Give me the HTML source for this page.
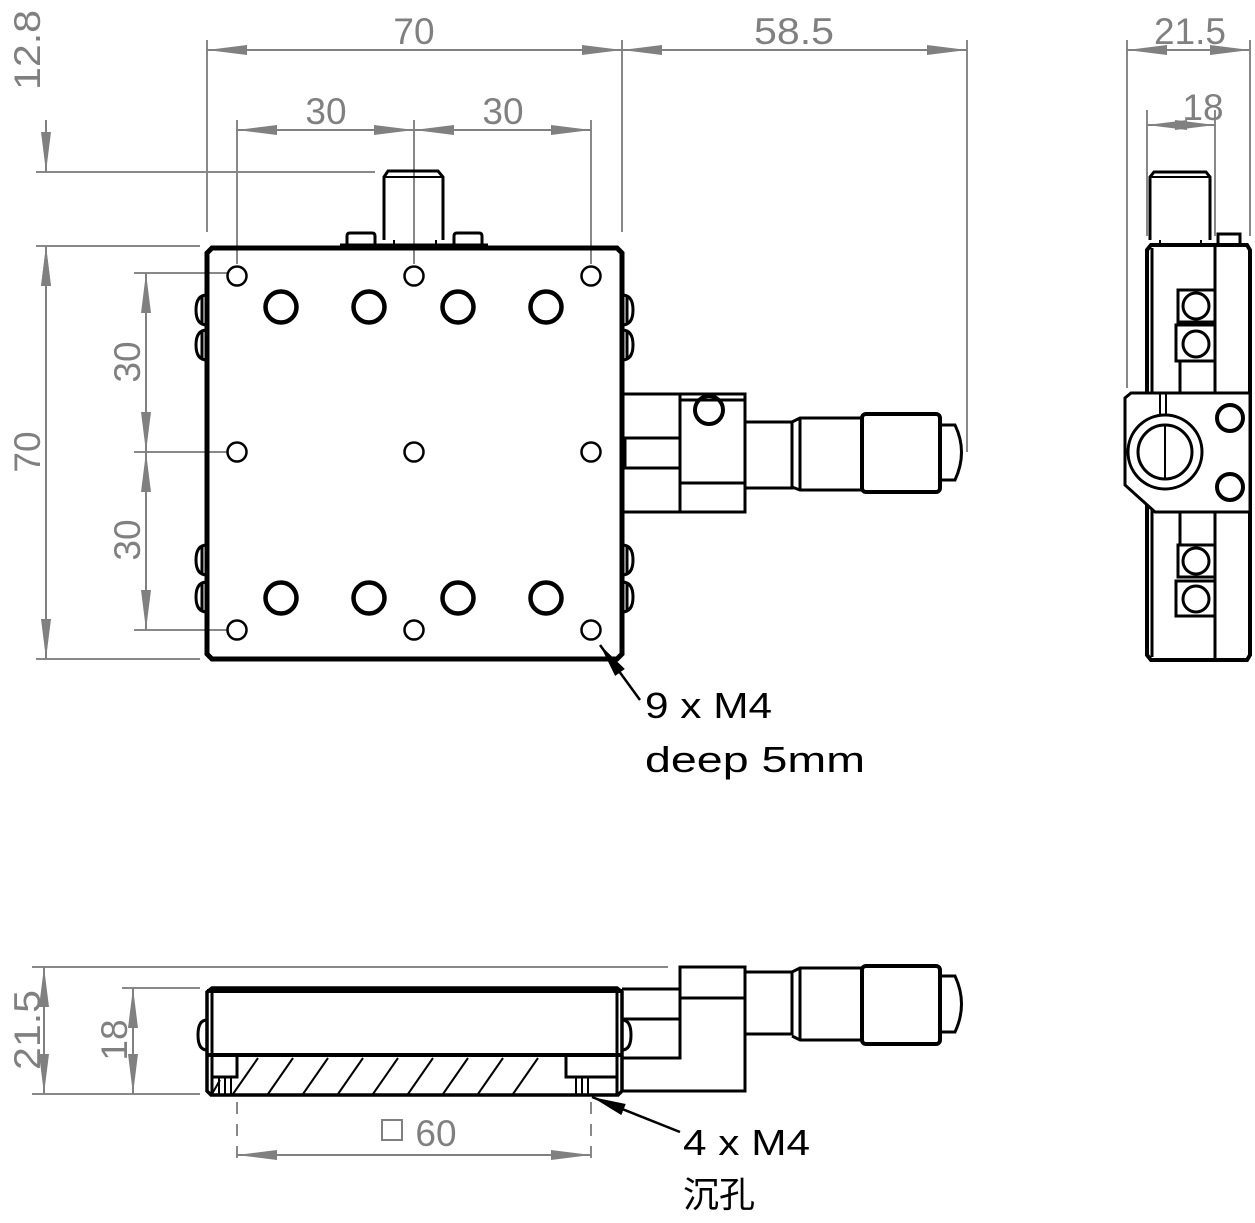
<!DOCTYPE html>
<html><head><meta charset="utf-8"><style>
html,body{margin:0;padding:0;background:#fff;}
svg{display:block;}
text{font-family:"Liberation Sans","Noto Sans CJK SC",sans-serif;}
</style></head><body>
<svg width="1255" height="1223" viewBox="0 0 1255 1223" xmlns="http://www.w3.org/2000/svg">
<defs>
<marker id="a" markerUnits="userSpaceOnUse" markerWidth="40" markerHeight="12" refX="40" refY="6" orient="auto-start-reverse" viewBox="0 0 40 12"><path d="M0,1 L40,6 L0,11 z" fill="#808080"/></marker>
<marker id="k" markerUnits="userSpaceOnUse" markerWidth="34" markerHeight="14" refX="34" refY="7" orient="auto" viewBox="0 0 34 14"><path d="M0,1 L34,7 L0,13 z" fill="#000"/></marker>
</defs>

<g stroke="#888" stroke-width="2" fill="none">
 <line x1="207" y1="40" x2="207" y2="232"/>
 <line x1="622" y1="40" x2="622" y2="232"/>
 <line x1="967" y1="40" x2="967" y2="452"/>
 <line x1="237" y1="120" x2="237" y2="264"/>
 <line x1="414" y1="120" x2="414" y2="264"/>
 <line x1="591" y1="120" x2="591" y2="264"/>
 <line x1="36" y1="172" x2="375" y2="172"/>
 <line x1="36" y1="246" x2="200" y2="246"/>
 <line x1="36" y1="659" x2="200" y2="659"/>
 <line x1="134" y1="273" x2="228" y2="273"/>
 <line x1="134" y1="452" x2="228" y2="452"/>
 <line x1="134" y1="630" x2="228" y2="630"/>
 <line x1="1127" y1="40" x2="1127" y2="388"/>
 <line x1="1147" y1="110" x2="1147" y2="236"/>
 <line x1="1250" y1="40" x2="1250" y2="236"/>
 <line x1="1215" y1="110" x2="1215" y2="236"/>
 <line x1="32" y1="967" x2="668" y2="967"/>
 <line x1="122" y1="988" x2="200" y2="988"/>
 <line x1="32" y1="1094" x2="200" y2="1094"/>
 <line x1="237" y1="1102" x2="237" y2="1165" stroke-dasharray="12,10"/>
 <line x1="591" y1="1102" x2="591" y2="1165" stroke-dasharray="12,10"/>
</g>
<g stroke="#808080" stroke-width="2" marker-start="url(#a)" marker-end="url(#a)">
 <line x1="207" y1="50" x2="622" y2="50"/>
 <line x1="622" y1="50" x2="967" y2="50"/>
 <line x1="237" y1="130" x2="414" y2="130"/>
 <line x1="414" y1="130" x2="591" y2="130"/>
 <line x1="46" y1="246" x2="46" y2="659"/>
 <line x1="146" y1="273" x2="146" y2="452"/>
 <line x1="146" y1="452" x2="146" y2="630"/>
 <line x1="1127" y1="50" x2="1250" y2="50"/>
 <line x1="44" y1="967" x2="44" y2="1094"/>
 <line x1="133" y1="988" x2="133" y2="1094"/>
 <line x1="237" y1="1155" x2="591" y2="1155"/>
</g>
<g stroke="#808080" stroke-width="2">
 <line x1="46" y1="120" x2="46" y2="172" marker-end="url(#a)"/>
 <line x1="46" y1="300" x2="46" y2="246" marker-end="url(#a)"/>
 <line x1="1147" y1="125" x2="1215" y2="125" marker-start="url(#a)" marker-end="url(#a)"/>
</g>
<g fill="#808080" font-size="37">
 <text x="414" y="44" text-anchor="middle">70</text>
 <text x="794" y="44" text-anchor="middle" textLength="80" lengthAdjust="spacingAndGlyphs">58.5</text>
 <text x="326" y="124" text-anchor="middle">30</text>
 <text x="503" y="124" text-anchor="middle">30</text>
 <text x="1190" y="44" text-anchor="middle">21.5</text>
 <text x="1203" y="120" text-anchor="middle">18</text>
 <text transform="translate(40,50) rotate(-90)" text-anchor="middle" textLength="80" lengthAdjust="spacingAndGlyphs">12.8</text>
 <text transform="translate(40,452) rotate(-90)" text-anchor="middle">70</text>
 <text transform="translate(140,362) rotate(-90)" text-anchor="middle">30</text>
 <text transform="translate(140,540) rotate(-90)" text-anchor="middle">30</text>
 <text transform="translate(40,1030) rotate(-90)" text-anchor="middle" textLength="80" lengthAdjust="spacingAndGlyphs">21.5</text>
 <text transform="translate(127,1040) rotate(-90)" text-anchor="middle">18</text>
 <text x="436" y="1146" text-anchor="middle">60</text>
</g>
<rect x="382" y="1120" width="20" height="20" fill="none" stroke="#808080" stroke-width="2"/>

<!-- top view -->
<g stroke="#000" fill="none">
 <path d="M384,240 V177 L388,171 H438 L443,177 V240" stroke-width="3"/>
 <line x1="384" y1="177" x2="443" y2="177" stroke-width="2"/>
 <line x1="394" y1="240" x2="394" y2="246" stroke-width="2"/>
 <line x1="436" y1="240" x2="436" y2="246" stroke-width="2"/>
 <path d="M347,245 V236 Q347,233 350,233 H372 Q375,233 375,236 V245" stroke-width="3"/>
 <path d="M454,245 V236 Q454,233 457,233 H479 Q482,233 482,236 V245" stroke-width="3"/>
 <line x1="340" y1="245" x2="488" y2="245" stroke-width="3"/>
 <path d="M212,248 H617 L622,253 V654 L617,659 H212 L207,654 V253 Z" stroke-width="5"/>
 <g stroke-width="3">
  <path d="M207,295 Q196,295 196,310 Q196,325 207,325"/><line x1="202" y1="296" x2="202" y2="324"/>
  <path d="M207,330 Q196,330 196,345 Q196,360 207,360"/><line x1="202" y1="331" x2="202" y2="359"/>
  <path d="M207,545 Q196,545 196,560 Q196,575 207,575"/><line x1="202" y1="546" x2="202" y2="574"/>
  <path d="M207,582 Q196,582 196,597 Q196,612 207,612"/><line x1="202" y1="583" x2="202" y2="611"/>
  <path d="M622,295 Q633,295 633,310 Q633,325 622,325"/><line x1="627" y1="296" x2="627" y2="324"/>
  <path d="M622,330 Q633,330 633,345 Q633,360 622,360"/><line x1="627" y1="331" x2="627" y2="359"/>
  <path d="M622,545 Q633,545 633,560 Q633,575 622,575"/><line x1="627" y1="546" x2="627" y2="574"/>
  <path d="M622,582 Q633,582 633,597 Q633,612 622,612"/><line x1="627" y1="583" x2="627" y2="611"/>
 </g>
 <g stroke-width="2.5">
  <circle cx="237" cy="276" r="9.5"/><circle cx="414" cy="276" r="9.5"/><circle cx="591" cy="276" r="9.5"/>
  <circle cx="237" cy="452" r="9.5"/><circle cx="414" cy="452" r="9.5"/><circle cx="591" cy="452" r="9.5"/>
  <circle cx="237" cy="630" r="9.5"/><circle cx="414" cy="630" r="9.5"/><circle cx="591" cy="630" r="9.5"/>
 </g>
 <g stroke-width="4.5">
  <circle cx="281" cy="307" r="15.5"/><circle cx="369" cy="307" r="15.5"/><circle cx="458" cy="307" r="15.5"/><circle cx="546" cy="307" r="15.5"/>
  <circle cx="281" cy="598" r="15.5"/><circle cx="369" cy="598" r="15.5"/><circle cx="458" cy="598" r="15.5"/><circle cx="546" cy="598" r="15.5"/>
 </g>
 <g stroke-width="3">
  <polyline points="622,394 745,394 745,512 622,512"/>
  <line x1="680" y1="394" x2="680" y2="512"/>
  <line x1="680" y1="400" x2="745" y2="400"/>
  <line x1="680" y1="483" x2="745" y2="483"/>
  <rect x="625" y="438" width="55" height="30"/>
  <circle cx="709" cy="410" r="14" stroke-width="4"/>
  <rect x="745" y="422" width="47" height="66"/>
  <path d="M792,422 L800,418 H862 V490 H800 L792,487"/>
  <line x1="800" y1="418" x2="800" y2="490"/>
  <rect x="862" y="414" width="78" height="78" rx="4" stroke-width="4"/>
  <path d="M940,425 H955 Q968,452 955,480 H940"/>
 </g>
</g>
<line x1="640" y1="700" x2="600" y2="645" stroke="#000" stroke-width="2.5" marker-end="url(#k)"/>
<g fill="#000" font-size="36">
 <text x="645" y="718" textLength="127" lengthAdjust="spacingAndGlyphs">9 x M4</text>
 <text x="645" y="772" textLength="220" lengthAdjust="spacingAndGlyphs">deep 5mm</text>
 <text x="683" y="1155" textLength="127" lengthAdjust="spacingAndGlyphs">4 x M4</text>
 <text x="683" y="1207">沉孔</text>
</g>

<!-- right view -->
<g stroke="#000" fill="none" stroke-width="3">
 <path d="M1150,240 V177 L1154,172 H1206 L1210,177 V240"/>
 <line x1="1150" y1="177" x2="1210" y2="177" stroke-width="2"/>
 <line x1="1160" y1="240" x2="1160" y2="245" stroke-width="2"/>
 <line x1="1201" y1="240" x2="1201" y2="245" stroke-width="2"/>
 <path d="M1218,244 V234 H1240 V244"/>
 <path d="M1151,245 H1247 L1250,250 V655 L1247,660 H1151 L1147,655 V250 Z" stroke-width="4"/>
 <line x1="1152" y1="248" x2="1152" y2="657"/>
 <line x1="1215" y1="245" x2="1215" y2="660"/>
 <rect x="1178" y="290" width="37" height="32"/><circle cx="1196" cy="306" r="13"/>
 <rect x="1176" y="325" width="39" height="36"/><circle cx="1196" cy="344" r="13"/>
 <rect x="1178" y="545" width="37" height="32"/><circle cx="1196" cy="561" r="13"/>
 <rect x="1176" y="581" width="39" height="35"/><circle cx="1196" cy="599" r="13"/>
 <line x1="1180" y1="361" x2="1180" y2="393"/>
 <line x1="1180" y1="512" x2="1180" y2="545"/>
 <path d="M1131,393 H1250 V512 H1155 L1125,485 V398 Z" fill="#fff"/>
 <line x1="1160" y1="393" x2="1160" y2="415" stroke-width="2"/>
 <line x1="1166" y1="393" x2="1166" y2="415" stroke-width="2"/>
 <circle cx="1165" cy="452" r="37" stroke-width="3"/>
 <circle cx="1165" cy="452" r="27"/>
 <line x1="1165" y1="425" x2="1165" y2="479" stroke-width="2"/>
 <circle cx="1230" cy="418" r="13" stroke-width="4"/>
 <circle cx="1230" cy="487" r="13" stroke-width="4"/>
</g>

<!-- bottom view -->
<g stroke="#000" fill="none" stroke-width="3">
 <path d="M212,988 H617 L622,992 V1091 L618,1095 H211 L207,1091 V992 Z" stroke-width="3.5"/>
 <line x1="207" y1="991" x2="622" y2="991" stroke-width="4"/>
 <line x1="207" y1="1055" x2="622" y2="1055" stroke-width="4"/>
 <line x1="212" y1="990" x2="212" y2="1094"/>
 <line x1="617" y1="990" x2="617" y2="1094"/>
 <path d="M207,1020 Q198,1020 198,1035 Q198,1050 207,1050"/>
 <path d="M622,1020 Q631,1020 631,1035 Q631,1050 622,1050"/>
 <polyline points="212,1077 237,1077 237,1057"/>
 <polyline points="566,1057 566,1077 617,1077"/>
 <g stroke-width="2">
  <line x1="219" y1="1077" x2="219" y2="1094"/>
  <line x1="225" y1="1077" x2="225" y2="1094"/>
  <line x1="231" y1="1077" x2="231" y2="1094"/>
  <line x1="576" y1="1077" x2="576" y2="1094"/>
  <line x1="582" y1="1077" x2="582" y2="1094"/>
  <line x1="588" y1="1077" x2="588" y2="1094"/>
  <line x1="212" y1="1094" x2="220" y2="1080"/>
  <line x1="233" y1="1094" x2="258" y2="1058"/>
  <line x1="268" y1="1094" x2="293" y2="1058"/>
  <line x1="303" y1="1094" x2="328" y2="1058"/>
  <line x1="338" y1="1094" x2="363" y2="1058"/>
  <line x1="373" y1="1094" x2="398" y2="1058"/>
  <line x1="408" y1="1094" x2="433" y2="1058"/>
  <line x1="443" y1="1094" x2="468" y2="1058"/>
  <line x1="478" y1="1094" x2="503" y2="1058"/>
  <line x1="513" y1="1094" x2="538" y2="1058"/>
 </g>
 <polyline points="622,989 680,989 680,1058 622,1058"/>
 <line x1="622" y1="1019" x2="680" y2="1019"/>
 <polyline points="622,1091 745,1091 745,967 680,967 680,1058"/>
 <line x1="680" y1="998" x2="745" y2="998"/>
 <rect x="745" y="972" width="47" height="62"/>
 <path d="M792,972 L800,968 H862 V1040 H800 L792,1036"/>
 <line x1="800" y1="968" x2="800" y2="1040"/>
 <rect x="862" y="966" width="78" height="78" rx="4" stroke-width="4"/>
 <path d="M940,976 H955 Q968,1004 955,1032 H940"/>
</g>
<line x1="680" y1="1132" x2="592" y2="1097" stroke="#000" stroke-width="2.5" marker-end="url(#k)"/>
</svg>
</body></html>
